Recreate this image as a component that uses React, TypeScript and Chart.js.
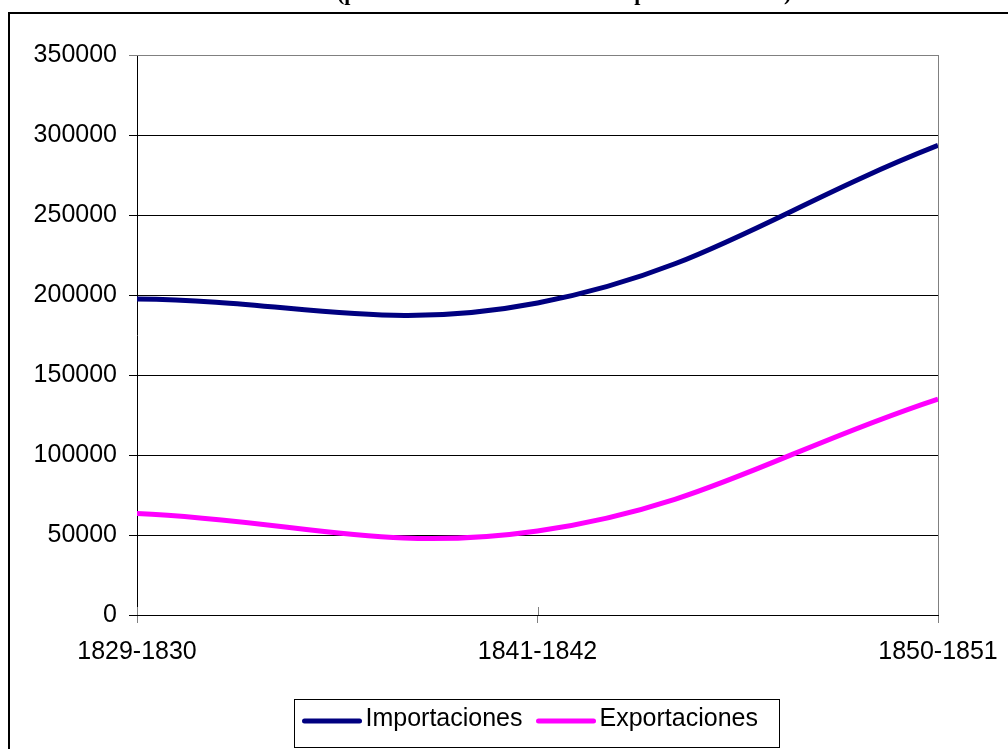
import React, { useEffect, useRef } from "react";
import { Chart, registerables } from "chart.js";

Chart.register(...registerables);

// ---- data ----
const periods = ["1829-1830", "1841-1842", "1850-1851"];
const importaciones = [197500, 195000, 293500];
const exportaciones = [63500, 52500, 135000];
const seriesNames = ["Importaciones", "Exportaciones"];
const seriesColors = ["#000080", "#FF00FF"];
const yMin = 0;
const yMax = 350000;
const yStep = 50000;
const titleText = "(promedios anuales en miles de pesos corrientes)";

const FONT = '"Liberation Sans", Arial, sans-serif';

const framePlugin = {
  id: "frameAndTitle",
  beforeDraw(chart: any) {
    const ctx = chart.ctx;
    ctx.save();
    ctx.fillStyle = "#fff";
    ctx.fillRect(0, 0, chart.width, chart.height);
    ctx.fillStyle = "#000";
    ctx.fillRect(8, 12, chart.width - 8, 2);
    ctx.fillRect(8, 12, 2, chart.height - 12);
    ctx.font = 'bold 22px "Liberation Serif", "Times New Roman", serif';
    ctx.textBaseline = "alphabetic";
    ctx.textAlign = "left";
    ctx.fillText(titleText, 337, -0.5);
    ctx.restore();
  },
};

const crossTicksPlugin = {
  id: "crossTicks",
  afterDatasetsDraw(chart: any) {
    const ctx = chart.ctx;
    const area = chart.chartArea;
    const xs = chart.scales.x;
    const ys = chart.scales.y;
    ctx.save();
    ctx.lineWidth = 1;
    ys.ticks.forEach((t: any, i: number) => {
      const y = Math.round(ys.getPixelForTick(i)) + 0.5;
      ctx.strokeStyle = t.value === yMax ? "#808080" : "#000";
      ctx.beginPath();
      ctx.moveTo(area.left, y);
      ctx.lineTo(area.left + 8, y);
      ctx.stroke();
    });
    xs.ticks.forEach((_t: any, i: number) => {
      const x = Math.round(xs.getPixelForTick(i)) + 0.5;
      ctx.strokeStyle = "#808080";
      ctx.beginPath();
      ctx.moveTo(x, area.bottom);
      ctx.lineTo(x, area.bottom - 8);
      ctx.stroke();
    });
    ctx.restore();
  },
};

const boxedLegendPlugin = {
  id: "boxedLegend",
  afterDraw(chart: any) {
    const ctx = chart.ctx;
    ctx.save();
    ctx.font = "25px " + FONT;
    ctx.textBaseline = "alphabetic";
    ctx.textAlign = "left";
    const left = 294.5;
    const top = 699.5;
    const h = 48;
    let x = left + 8;
    let textEnd = x;
    chart.data.datasets.forEach((ds: any) => {
      ctx.strokeStyle = ds.borderColor;
      ctx.lineWidth = 5;
      ctx.lineCap = "round";
      ctx.beginPath();
      ctx.moveTo(x + 2, 721);
      ctx.lineTo(x + 57, 721);
      ctx.stroke();
      ctx.fillStyle = "#000";
      const tx = x + 63;
      ctx.fillText(ds.label, tx, 726);
      textEnd = tx + ctx.measureText(ds.label).width;
      x = textEnd + 14;
    });
    ctx.lineCap = "butt";
    ctx.lineWidth = 1;
    ctx.strokeStyle = "#000";
    ctx.strokeRect(left, top, Math.round(textEnd + 21) - left + 0.5, h);
    ctx.restore();
  },
};

export default function App() {
  const ref = useRef<HTMLCanvasElement>(null);

  useEffect(() => {
    if (!ref.current) return;
    const chart = new Chart(ref.current, {
      type: "line",
      data: {
        labels: periods,
        datasets: [
          {
            label: seriesNames[0],
            data: importaciones,
            borderColor: seriesColors[0],
            backgroundColor: seriesColors[0],
            borderWidth: 5,
            pointRadius: 0,
            tension: 0.4,
            fill: false,
            clip: 0,
          },
          {
            label: seriesNames[1],
            data: exportaciones,
            borderColor: seriesColors[1],
            backgroundColor: seriesColors[1],
            borderWidth: 5,
            pointRadius: 0,
            tension: 0.4,
            fill: false,
            clip: 0,
          },
        ],
      },
      options: {
        responsive: false,
        animation: false,
        devicePixelRatio: 1,
        layout: { padding: { left: 0, right: 70, top: 55, bottom: 0 } },
        plugins: {
          legend: { display: false },
          title: { display: false },
          tooltip: { enabled: false },
        },
        scales: {
          x: {
            type: "category",
            offset: false,
            afterFit: (s: any) => {
              s.height = 134;
              s.paddingLeft = 0;
              s.paddingRight = 0;
            },
            grid: {
              display: true,
              drawOnChartArea: true,
              color: (c: any) => (c.index === periods.length - 1 ? "#808080" : "rgba(0,0,0,0)"),
              tickColor: "#808080",
              tickLength: 8,
              lineWidth: 1,
            },
            border: { display: true, color: "#000", width: 1 },
            ticks: {
              color: "#000",
              font: { family: FONT, size: 25 },
              padding: 14,
              maxRotation: 0,
              autoSkip: false,
            },
          },
          y: {
            min: yMin,
            max: yMax,
            afterFit: (s: any) => {
              s.width = 137;
              s.paddingTop = 0;
              s.paddingBottom = 0;
            },
            grid: {
              color: (c: any) => (c.tick && c.tick.value === yMax ? "#808080" : "#000"),
              tickColor: (c: any) => (c.tick && c.tick.value === yMax ? "#808080" : "#000"),
              tickLength: 8,
              lineWidth: 1,
            },
            border: { display: true, color: "#000", width: 1 },
            ticks: {
              stepSize: yStep,
              color: "#000",
              font: { family: FONT, size: 25 },
              padding: 12,
              callback: (v: any) => String(v),
            },
          },
        },
      },
      plugins: [framePlugin, crossTicksPlugin, boxedLegendPlugin],
    });
    return () => chart.destroy();
  }, []);

  return (
    <div style={{ position: "absolute", left: 0, top: 0, width: 1008, height: 749, overflow: "hidden" }}>
      <canvas ref={ref} width={1008} height={749} style={{ display: "block" }} />
    </div>
  );
}
